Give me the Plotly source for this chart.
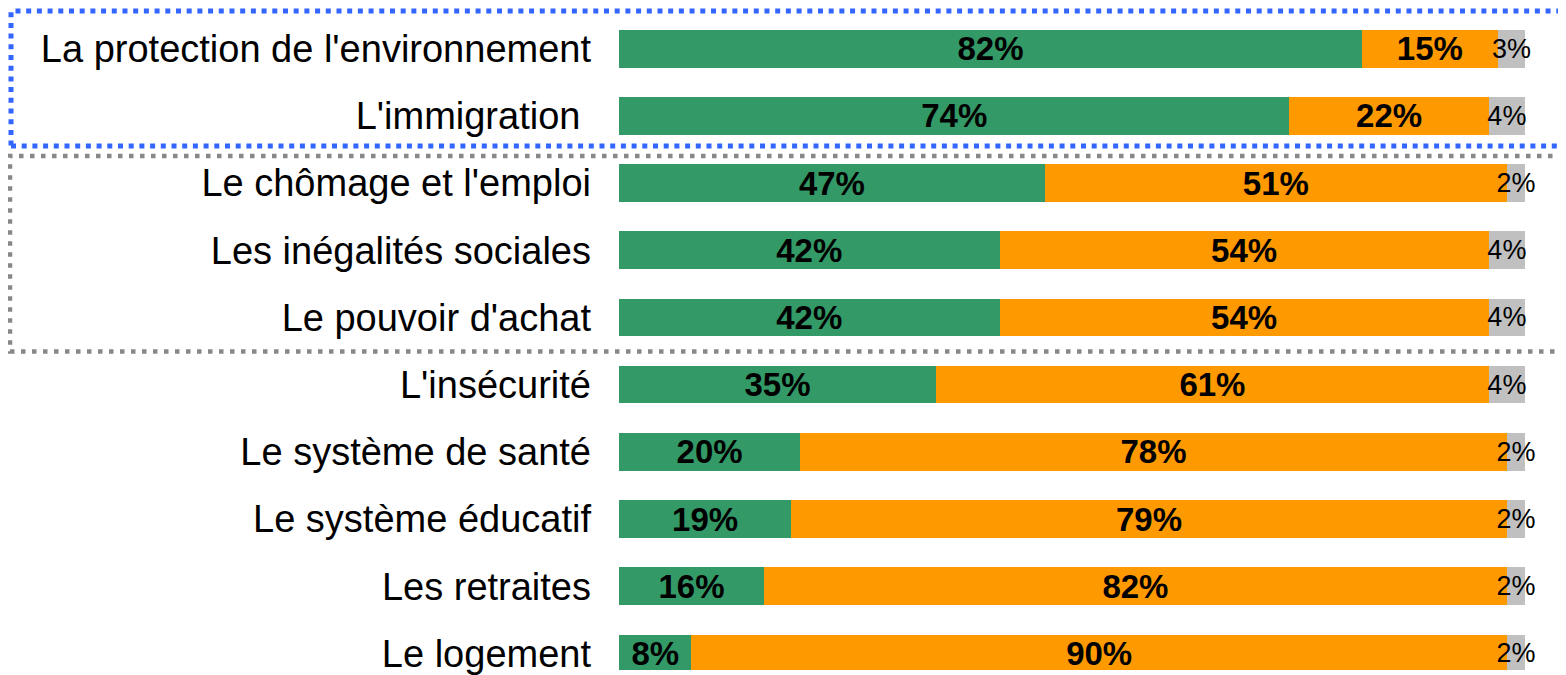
import plotly.graph_objects as go

categories = [
    "La protection de l'environnement",
    "L'immigration\u00a0",
    "Le chômage et l'emploi",
    "Les inégalités sociales",
    "Le pouvoir d'achat",
    "L'insécurité",
    "Le système de santé",
    "Le système éducatif",
    "Les retraites",
    "Le logement",
]
green_values = [82, 74, 47, 42, 42, 35, 20, 19, 16, 8]
orange_values = [15, 22, 51, 54, 54, 61, 78, 79, 82, 90]
gray_values = [3, 4, 2, 4, 4, 4, 2, 2, 2, 2]

GREEN = "#339966"
ORANGE = "#FF9900"
GRAY = "#C0C0C0"
FONT = "Liberation Sans, Arial, sans-serif"

fig = go.Figure()
for vals, col, bold, size in [
    (green_values, GREEN, True, 33),
    (orange_values, ORANGE, True, 33),
    (gray_values, GRAY, False, 27),
]:
    fig.add_trace(go.Bar(
        y=categories, x=vals, orientation="h",
        marker=dict(color=col, line=dict(width=0)),
        width=0.56,
        text=[f"<b>{v}%</b>" if bold else f"{v}%" for v in vals],
        textposition="inside",
        insidetextanchor="middle",
        constraintext="none",
        textangle=0,
        textfont=dict(family=FONT, size=size, color="black"),
        cliponaxis=False,
        hoverinfo="skip",
    ))

# page has an 8px body margin: figure is drawn from (8, 8)
OFF = 8
W, H = 1566 - OFF, 675 - OFF
L = 619 - OFF
PITCH = 67.7
fig.update_layout(
    barmode="stack",
    width=W, height=H,
    margin=dict(l=L, r=0, t=0, b=0),
    plot_bgcolor="white", paper_bgcolor="white",
    showlegend=False,
    font=dict(family=FONT, color="black"),
    xaxis=dict(range=[0, (W - L) / 9.06], visible=False, fixedrange=True),
    yaxis=dict(
        type="category",
        categoryorder="array", categoryarray=categories,
        range=[(H - 41) / PITCH, -41 / PITCH],
        showgrid=False, zeroline=False, showline=False,
        ticks="", ticklabelstandoff=27,
        tickfont=dict(family=FONT, size=38, color="black"),
        fixedrange=True,
    ),
)

pw = W - L
def px_x(p):
    return (p - OFF - L) / pw

def px_y(p):
    return 1 - (p - OFF) / H

# blue dotted frame around first two rows
fig.add_shape(type="rect", xref="paper", yref="paper",
              x0=px_x(11), x1=px_x(1580), y0=px_y(147), y1=px_y(11),
              line=dict(color="#3366FF", width=5, dash="5px,5.7px"),
              fillcolor="rgba(0,0,0,0)", layer="above")
# gray dotted frame around rows 3-5
fig.add_shape(type="rect", xref="paper", yref="paper",
              x0=px_x(10), x1=px_x(1580), y0=px_y(354), y1=px_y(157),
              line=dict(color="#888888", width=4.5, dash="4.5px,6.5px"),
              fillcolor="rgba(0,0,0,0)", layer="above")

fig.write_html("out.html")
